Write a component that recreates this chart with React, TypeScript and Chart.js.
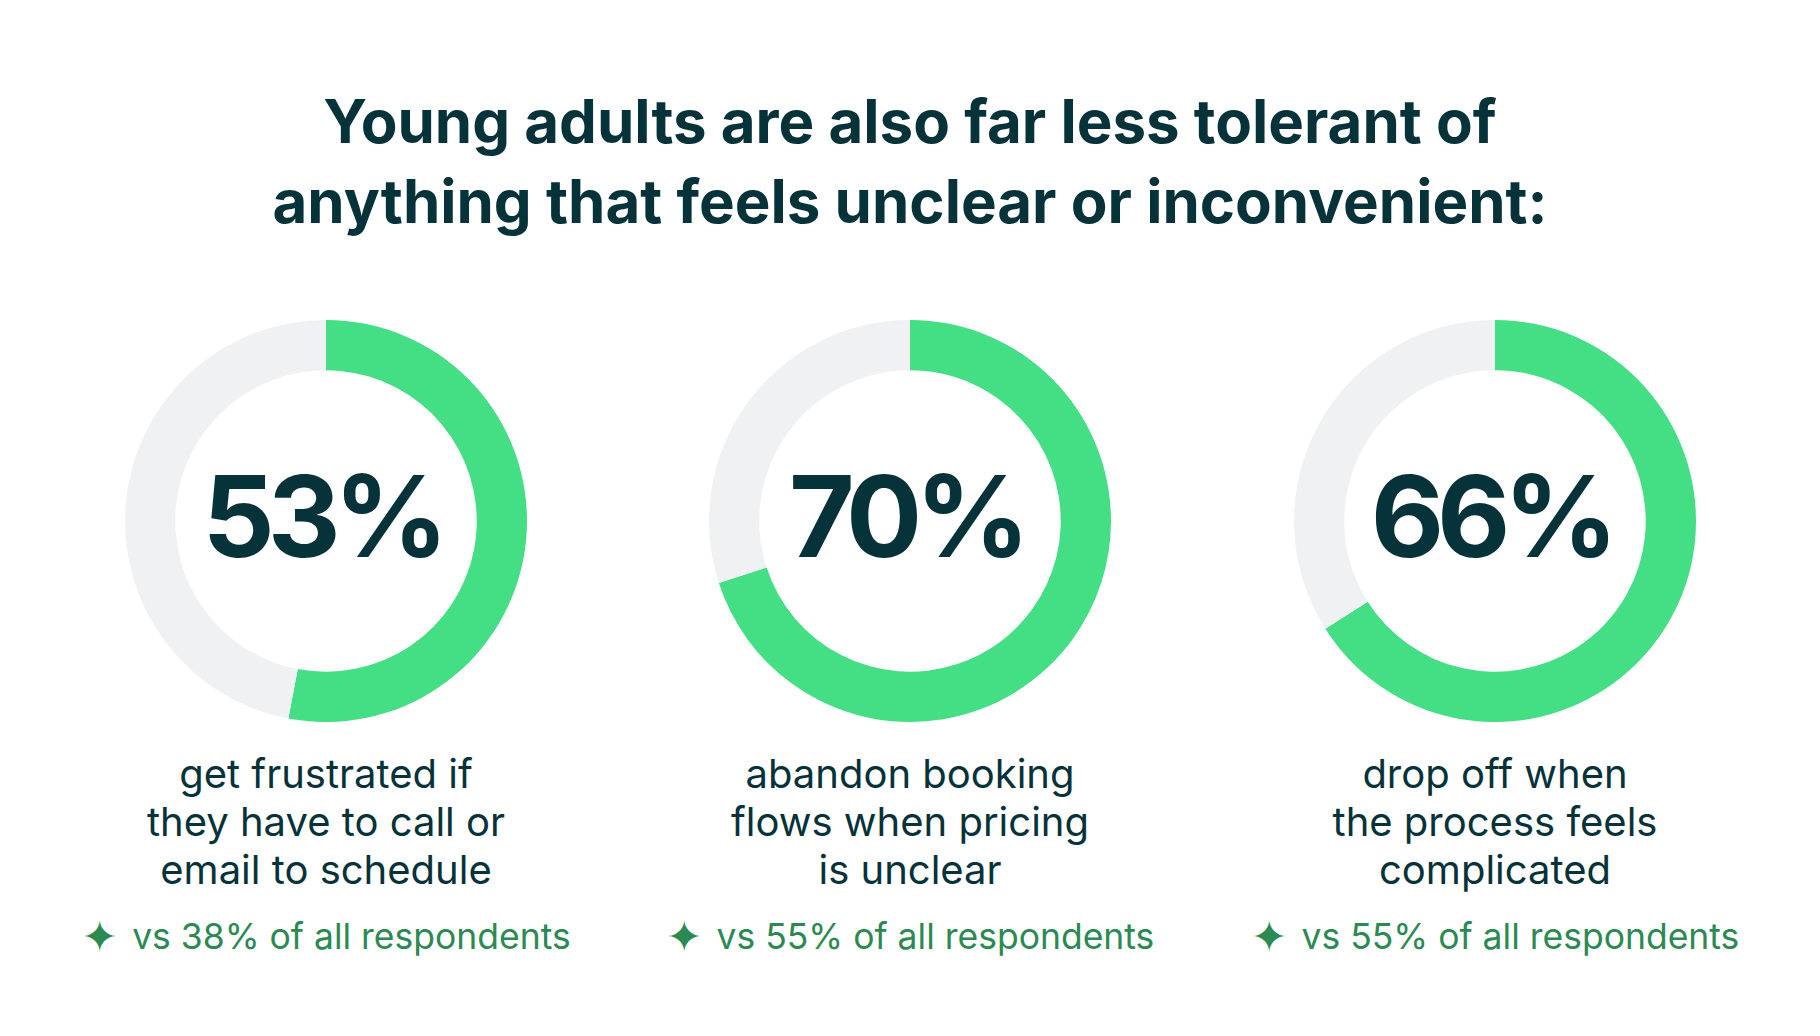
import React, { useEffect, useRef } from "react";
import { Chart, registerables } from "chart.js";

Chart.register(...registerables);

const title = [
  "Young adults are also far less tolerant of",
  "anything that feels unclear or inconvenient:",
];
const values = [53, 70, 66];
const captions = [
  ["get frustrated if", "they have to call or", "email to schedule"],
  ["abandon booking", "flows when pricing", "is unclear"],
  ["drop off when", "the process feels", "complicated"],
];
const comparisons = [38, 55, 55];

const GREEN = "#44DE85";
const GREY = "#F0F1F3";
const DARK = "#06323A";
const NOTE = "#2A8A52";
const FONT = "Inter, 'Noto Sans', sans-serif";

const centers = [326, 910, 1495];
const CY = 521;
const R = 201;

function Donut({ value }: { value: number }) {
  const ref = useRef<HTMLCanvasElement>(null);
  useEffect(() => {
    if (!ref.current) return;
    const centerText = {
      id: "centerText",
      afterDraw(chart: any) {
        const meta = chart.getDatasetMeta(0);
        const arc = meta.data[0];
        if (!arc) return;
        const ctx = chart.ctx;
        ctx.save();
        ctx.fillStyle = DARK;
        ctx.font = `700 113px ${FONT}`;
        ctx.textAlign = "center";
        ctx.textBaseline = "middle";
        (ctx as any).letterSpacing = "-7px";
        ctx.fillText(`${chart.data.datasets[0].data[0]}%`, arc.x - 4, arc.y + 2);
        ctx.restore();
      },
    };
    const chart = new Chart(ref.current, {
      type: "doughnut",
      data: {
        labels: ["yes", "rest"],
        datasets: [
          {
            data: [value, 100 - value],
            backgroundColor: [GREEN, GREY],
            borderWidth: 0,
            hoverOffset: 0,
          },
        ],
      },
      options: {
        responsive: false,
        animation: false,
        cutout: "75%",
        plugins: { legend: { display: false }, tooltip: { enabled: false } },
        events: [],
      },
      plugins: [centerText],
    });
    return () => chart.destroy();
  }, [value]);
  return <canvas ref={ref} width={2 * R} height={2 * R} style={{ width: 2 * R, height: 2 * R }} />;
}

export default function App() {
  return (
    <div
      style={{
        position: "fixed",
        left: 0,
        top: 0,
        width: 1820,
        height: 1036,
        background: "#fff",
        fontFamily: FONT,
        color: DARK,
        overflow: "hidden",
      }}
    >
      <div
        style={{
          position: "absolute",
          left: 0,
          width: 1820,
          top: 81,
          textAlign: "center",
          fontWeight: 700,
          fontSize: 60,
          lineHeight: "80px",
        }}
      >
        {title.map((t, i) => (
          <div key={i}>{t}</div>
        ))}
      </div>
      {values.map((v, i) => (
        <React.Fragment key={i}>
          <div style={{ position: "absolute", left: centers[i] - R, top: CY - R, width: 2 * R, height: 2 * R }}>
            <Donut value={v} />
          </div>
          <div
            style={{
              position: "absolute",
              left: centers[i] - 280,
              width: 560,
              top: 750,
              textAlign: "center",
              fontSize: 40,
              lineHeight: "48px",
              fontWeight: 400,
            }}
          >
            {captions[i].map((c, j) => (
              <div key={j}>{c}</div>
            ))}
          </div>
          <div
            style={{
              position: "absolute",
              left: centers[i] - 300,
              width: 600,
              top: 914,
              textAlign: "center",
              fontSize: 35.5,
              lineHeight: "46px",
              color: NOTE,
              whiteSpace: "nowrap",
            }}
          >
            <span style={{ fontFamily: "'DejaVu Sans'", fontSize: 44, marginRight: 14, verticalAlign: "-3px", lineHeight: "40px" }}>✦</span>
            vs {comparisons[i]}% of all respondents
          </div>
        </React.Fragment>
      ))}
    </div>
  );
}
